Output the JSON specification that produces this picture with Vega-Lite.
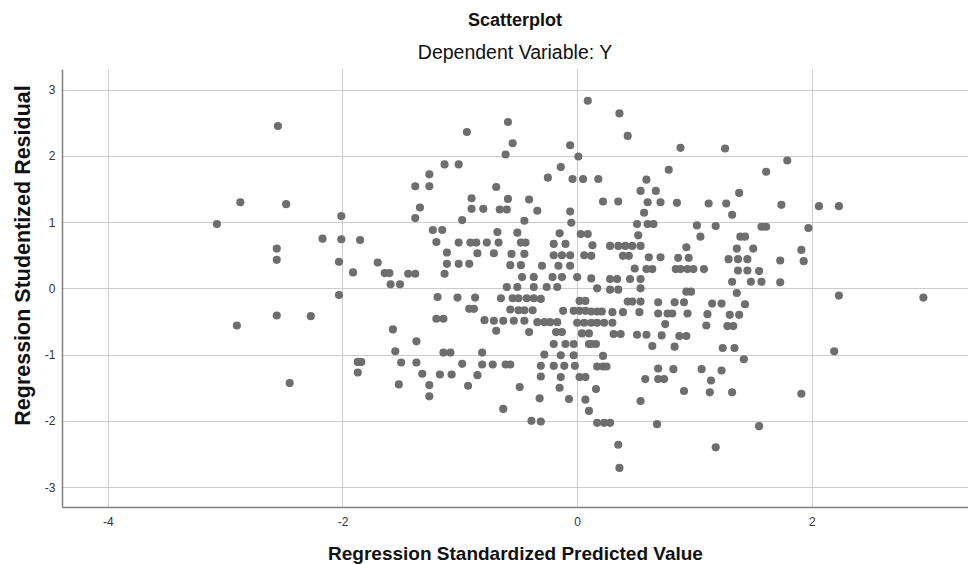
{
  "$schema": "https://vega.github.io/schema/vega-lite/v6.json",
  "autosize": "none",
  "width": 906,
  "height": 438,
  "padding": {"left": 62, "top": 69, "right": 0, "bottom": 57},
  "background": "white",
  "config": {
    "view": {"stroke": null},
    "font": "Liberation Sans"
  },
  "title": {
    "text": "Scatterplot",
    "subtitle": "Dependent Variable: Y",
    "anchor": "middle",
    "font": "Liberation Sans",
    "fontSize": 18,
    "fontWeight": "bold",
    "color": "#111111",
    "subtitleFont": "Liberation Sans",
    "subtitleFontSize": 19.5,
    "subtitleColor": "#111111",
    "subtitlePadding": 14,
    "offset": 7
  },
  "data": {
    "values": [
      {"x": -2.55, "y": 2.45}, {"x": -2.87, "y": 1.30}, {"x": -2.48, "y": 1.27}, {"x": -3.07, "y": 0.97},
      {"x": -2.01, "y": 1.09}, {"x": -2.17, "y": 0.75}, {"x": -2.01, "y": 0.74}, {"x": -1.85, "y": 0.73},
      {"x": -2.56, "y": 0.60}, {"x": -2.56, "y": 0.43}, {"x": -2.03, "y": 0.40}, {"x": -1.91, "y": 0.24},
      {"x": -1.70, "y": 0.39},
      {"x": -2.03, "y": -0.10}, {"x": -2.56, "y": -0.41}, {"x": -2.27, "y": -0.42}, {"x": -2.90, "y": -0.56},
      {"x": -2.45, "y": -1.43}, {"x": -1.87, "y": -1.11}, {"x": -1.84, "y": -1.11}, {"x": -1.87, "y": -1.27},
      {"x": 0.09, "y": 2.83}, {"x": -0.59, "y": 2.51}, {"x": -0.94, "y": 2.36}, {"x": -0.55, "y": 2.19},
      {"x": -0.61, "y": 2.02}, {"x": -0.06, "y": 2.16}, {"x": 0.01, "y": 1.99}, {"x": -1.13, "y": 1.87},
      {"x": -1.01, "y": 1.87}, {"x": -0.14, "y": 1.83}, {"x": -1.26, "y": 1.72}, {"x": -0.25, "y": 1.67},
      {"x": -0.04, "y": 1.65}, {"x": 0.05, "y": 1.65}, {"x": -1.38, "y": 1.54}, {"x": -1.26, "y": 1.54},
      {"x": -0.69, "y": 1.53}, {"x": -0.90, "y": 1.36}, {"x": -0.59, "y": 1.35}, {"x": -0.41, "y": 1.34},
      {"x": -1.34, "y": 1.22}, {"x": -0.90, "y": 1.20}, {"x": -0.80, "y": 1.20}, {"x": -0.66, "y": 1.19},
      {"x": -0.60, "y": 1.19}, {"x": -0.34, "y": 1.17}, {"x": -1.38, "y": 1.06}, {"x": -0.98, "y": 1.03},
      {"x": -0.06, "y": 1.16}, {"x": -0.05, "y": 0.99}, {"x": -0.45, "y": 1.02}, {"x": -1.23, "y": 0.88},
      {"x": -1.15, "y": 0.88}, {"x": -0.68, "y": 0.85}, {"x": -0.51, "y": 0.84}, {"x": -0.15, "y": 0.83},
      {"x": 0.03, "y": 0.82}, {"x": 0.09, "y": 0.82}, {"x": -1.20, "y": 0.70}, {"x": -1.01, "y": 0.69},
      {"x": -0.91, "y": 0.69}, {"x": -0.86, "y": 0.69}, {"x": -0.77, "y": 0.69}, {"x": -0.67, "y": 0.69},
      {"x": -0.48, "y": 0.69}, {"x": -0.44, "y": 0.69}, {"x": -0.20, "y": 0.67}, {"x": -0.10, "y": 0.67},
      {"x": -1.11, "y": 0.54}, {"x": -0.85, "y": 0.53}, {"x": -0.71, "y": 0.53}, {"x": -0.56, "y": 0.52},
      {"x": -0.45, "y": 0.52}, {"x": -0.20, "y": 0.50}, {"x": -0.13, "y": 0.50}, {"x": -0.06, "y": 0.50},
      {"x": 0.06, "y": 0.50}, {"x": -1.11, "y": 0.37}, {"x": -1.01, "y": 0.37}, {"x": -0.92, "y": 0.37},
      {"x": -0.57, "y": 0.35}, {"x": -0.48, "y": 0.35}, {"x": -0.30, "y": 0.34}, {"x": -0.16, "y": 0.34},
      {"x": -0.06, "y": 0.34}, {"x": -1.64, "y": 0.23}, {"x": -1.60, "y": 0.23}, {"x": -1.44, "y": 0.22},
      {"x": -1.38, "y": 0.22}, {"x": -1.13, "y": 0.22}, {"x": -0.47, "y": 0.17}, {"x": -0.37, "y": 0.17},
      {"x": -0.21, "y": 0.17}, {"x": -0.13, "y": 0.17}, {"x": 0.00, "y": 0.17}, {"x": -1.59, "y": 0.06},
      {"x": -1.51, "y": 0.06}, {"x": -0.60, "y": 0.02}, {"x": -0.51, "y": 0.02}, {"x": -0.37, "y": 0.02},
      {"x": -0.26, "y": 0.02}, {"x": -0.17, "y": 0.02},
      {"x": -1.19, "y": -0.13}, {"x": -1.02, "y": -0.14}, {"x": -0.87, "y": -0.14}, {"x": -0.65, "y": -0.15},
      {"x": -0.55, "y": -0.15}, {"x": -0.50, "y": -0.15}, {"x": -0.43, "y": -0.15}, {"x": -0.37, "y": -0.15},
      {"x": -0.31, "y": -0.16}, {"x": 0.02, "y": -0.19}, {"x": 0.07, "y": -0.19}, {"x": -0.92, "y": -0.31},
      {"x": -0.88, "y": -0.31}, {"x": -0.57, "y": -0.32}, {"x": -0.50, "y": -0.33}, {"x": -0.45, "y": -0.33},
      {"x": -0.38, "y": -0.33}, {"x": -0.12, "y": -0.34}, {"x": -0.03, "y": -0.34}, {"x": 0.02, "y": -0.34},
      {"x": 0.07, "y": -0.34}, {"x": -1.20, "y": -0.46}, {"x": -1.14, "y": -0.46}, {"x": -0.79, "y": -0.48},
      {"x": -0.71, "y": -0.49}, {"x": -0.63, "y": -0.49}, {"x": -0.54, "y": -0.49}, {"x": -0.45, "y": -0.49},
      {"x": -0.34, "y": -0.51}, {"x": -0.28, "y": -0.51}, {"x": -0.23, "y": -0.51}, {"x": -0.17, "y": -0.51},
      {"x": 0.00, "y": -0.52}, {"x": 0.06, "y": -0.52}, {"x": 0.12, "y": -0.52}, {"x": -1.57, "y": -0.62},
      {"x": -0.69, "y": -0.64}, {"x": -0.41, "y": -0.66}, {"x": -0.18, "y": -0.66}, {"x": -0.13, "y": -0.66},
      {"x": 0.04, "y": -0.68}, {"x": 0.10, "y": -0.68}, {"x": -1.37, "y": -0.80}, {"x": -0.20, "y": -0.84},
      {"x": -0.10, "y": -0.84}, {"x": -0.03, "y": -0.84}, {"x": 0.10, "y": -0.84}, {"x": -1.55, "y": -0.95},
      {"x": -1.14, "y": -0.97}, {"x": -1.08, "y": -0.97}, {"x": -0.81, "y": -0.97}, {"x": -0.28, "y": -1.00},
      {"x": -0.14, "y": -1.01}, {"x": -0.03, "y": -1.01}, {"x": -1.50, "y": -1.12}, {"x": -1.37, "y": -1.12},
      {"x": -0.98, "y": -1.14}, {"x": -0.81, "y": -1.15}, {"x": -0.72, "y": -1.15}, {"x": -0.61, "y": -1.15},
      {"x": -0.57, "y": -1.15}, {"x": -0.31, "y": -1.17}, {"x": -0.20, "y": -1.17}, {"x": -0.11, "y": -1.17},
      {"x": -0.02, "y": -1.17}, {"x": -1.32, "y": -1.29}, {"x": -1.17, "y": -1.30}, {"x": -1.07, "y": -1.30},
      {"x": -0.85, "y": -1.31}, {"x": -0.31, "y": -1.33}, {"x": -0.14, "y": -1.34}, {"x": 0.02, "y": -1.34},
      {"x": 0.07, "y": -1.34}, {"x": -1.52, "y": -1.45}, {"x": -1.26, "y": -1.46}, {"x": -0.93, "y": -1.47},
      {"x": -0.49, "y": -1.49}, {"x": -0.15, "y": -1.50}, {"x": -1.26, "y": -1.63}, {"x": -0.32, "y": -1.66},
      {"x": -0.07, "y": -1.67}, {"x": 0.07, "y": -1.68}, {"x": -0.63, "y": -1.82}, {"x": 0.10, "y": -1.85},
      {"x": -0.39, "y": -2.00}, {"x": -0.31, "y": -2.01},
      {"x": 0.36, "y": 2.64}, {"x": 0.43, "y": 2.30}, {"x": 0.88, "y": 2.12}, {"x": 1.26, "y": 2.11},
      {"x": 1.79, "y": 1.93}, {"x": 0.78, "y": 1.79}, {"x": 1.61, "y": 1.76}, {"x": 0.18, "y": 1.65},
      {"x": 0.59, "y": 1.64}, {"x": 0.54, "y": 1.47}, {"x": 0.67, "y": 1.47}, {"x": 1.38, "y": 1.44},
      {"x": 0.22, "y": 1.31}, {"x": 0.35, "y": 1.31}, {"x": 0.60, "y": 1.30}, {"x": 0.71, "y": 1.30},
      {"x": 0.85, "y": 1.29}, {"x": 1.12, "y": 1.28}, {"x": 1.27, "y": 1.28}, {"x": 1.74, "y": 1.26},
      {"x": 0.57, "y": 1.14}, {"x": 1.32, "y": 1.11}, {"x": 0.51, "y": 0.97}, {"x": 0.60, "y": 0.97},
      {"x": 0.65, "y": 0.97}, {"x": 1.02, "y": 0.95}, {"x": 1.18, "y": 0.94}, {"x": 1.57, "y": 0.93},
      {"x": 1.61, "y": 0.93}, {"x": 0.52, "y": 0.80}, {"x": 1.05, "y": 0.78}, {"x": 1.39, "y": 0.78},
      {"x": 1.43, "y": 0.78}, {"x": 0.13, "y": 0.65}, {"x": 0.28, "y": 0.64}, {"x": 0.35, "y": 0.64},
      {"x": 0.41, "y": 0.64}, {"x": 0.47, "y": 0.64}, {"x": 0.54, "y": 0.64}, {"x": 0.93, "y": 0.62},
      {"x": 1.36, "y": 0.60}, {"x": 1.50, "y": 0.60}, {"x": 1.91, "y": 0.58}, {"x": 0.12, "y": 0.49},
      {"x": 0.39, "y": 0.49}, {"x": 0.44, "y": 0.49}, {"x": 0.61, "y": 0.47}, {"x": 0.71, "y": 0.47},
      {"x": 0.86, "y": 0.46}, {"x": 0.95, "y": 0.46}, {"x": 1.29, "y": 0.44}, {"x": 1.37, "y": 0.44},
      {"x": 1.45, "y": 0.44}, {"x": 1.73, "y": 0.42}, {"x": 0.49, "y": 0.30}, {"x": 0.59, "y": 0.29},
      {"x": 0.64, "y": 0.29}, {"x": 0.84, "y": 0.29}, {"x": 0.88, "y": 0.29}, {"x": 0.94, "y": 0.29},
      {"x": 0.99, "y": 0.29}, {"x": 1.08, "y": 0.29}, {"x": 1.37, "y": 0.27}, {"x": 1.45, "y": 0.27},
      {"x": 1.55, "y": 0.26}, {"x": 0.12, "y": 0.15}, {"x": 0.28, "y": 0.14}, {"x": 0.34, "y": 0.14},
      {"x": 0.45, "y": 0.14}, {"x": 0.54, "y": 0.14}, {"x": 1.32, "y": 0.10}, {"x": 1.48, "y": 0.10},
      {"x": 1.57, "y": 0.10}, {"x": 1.73, "y": 0.09}, {"x": 0.17, "y": 0.00}, {"x": 0.54, "y": 0.00},
      {"x": 0.28, "y": -0.02}, {"x": 0.35, "y": -0.02}, {"x": 0.93, "y": -0.05}, {"x": 0.97, "y": -0.05},
      {"x": 1.36, "y": -0.07}, {"x": 0.43, "y": -0.20}, {"x": 0.47, "y": -0.20}, {"x": 0.54, "y": -0.20},
      {"x": 0.69, "y": -0.21}, {"x": 0.83, "y": -0.21}, {"x": 0.91, "y": -0.21}, {"x": 1.15, "y": -0.23},
      {"x": 1.23, "y": -0.23}, {"x": 1.43, "y": -0.24}, {"x": 0.12, "y": -0.35}, {"x": 0.17, "y": -0.35},
      {"x": 0.21, "y": -0.35}, {"x": 0.30, "y": -0.36}, {"x": 0.39, "y": -0.36}, {"x": 0.53, "y": -0.36},
      {"x": 0.69, "y": -0.38}, {"x": 0.77, "y": -0.38}, {"x": 0.81, "y": -0.38}, {"x": 0.94, "y": -0.38},
      {"x": 1.11, "y": -0.39}, {"x": 1.30, "y": -0.40}, {"x": 1.38, "y": -0.40}, {"x": 0.17, "y": -0.52},
      {"x": 0.23, "y": -0.52}, {"x": 0.30, "y": -0.52}, {"x": 0.75, "y": -0.54}, {"x": 1.10, "y": -0.56},
      {"x": 1.28, "y": -0.57}, {"x": 1.33, "y": -0.57}, {"x": 0.31, "y": -0.69}, {"x": 0.37, "y": -0.69},
      {"x": 0.51, "y": -0.70}, {"x": 0.59, "y": -0.70}, {"x": 0.72, "y": -0.71}, {"x": 0.87, "y": -0.72},
      {"x": 0.93, "y": -0.72}, {"x": 0.12, "y": -0.84}, {"x": 0.16, "y": -0.84}, {"x": 0.64, "y": -0.87},
      {"x": 0.83, "y": -0.88}, {"x": 1.24, "y": -0.90}, {"x": 1.34, "y": -0.90}, {"x": 0.22, "y": -1.02},
      {"x": 1.42, "y": -1.07}, {"x": 0.17, "y": -1.18}, {"x": 0.22, "y": -1.18}, {"x": 0.25, "y": -1.18},
      {"x": 0.69, "y": -1.21}, {"x": 0.82, "y": -1.22}, {"x": 1.06, "y": -1.22}, {"x": 1.23, "y": -1.24},
      {"x": 0.58, "y": -1.37}, {"x": 0.69, "y": -1.37}, {"x": 0.74, "y": -1.37}, {"x": 1.14, "y": -1.39},
      {"x": 0.16, "y": -1.52}, {"x": 0.91, "y": -1.55}, {"x": 1.13, "y": -1.57}, {"x": 1.32, "y": -1.57},
      {"x": 1.91, "y": -1.59}, {"x": 0.54, "y": -1.70}, {"x": 0.17, "y": -2.03}, {"x": 0.23, "y": -2.03},
      {"x": 0.28, "y": -2.03}, {"x": 0.68, "y": -2.05}, {"x": 1.55, "y": -2.08}, {"x": 0.35, "y": -2.36},
      {"x": 1.18, "y": -2.40}, {"x": 0.36, "y": -2.71},
      {"x": 2.06, "y": 1.24}, {"x": 2.23, "y": 1.24}, {"x": 1.97, "y": 0.91}, {"x": 1.93, "y": 0.41},
      {"x": 2.23, "y": -0.11}, {"x": 2.95, "y": -0.14}, {"x": 2.19, "y": -0.95}
    ]
  },
  "mark": {"type": "circle", "size": 66, "color": "#6e6e6e", "opacity": 1},
  "encoding": {
    "x": {
      "field": "x",
      "type": "quantitative",
      "scale": {"domain": [-4.39, 3.33], "nice": false, "zero": false},
      "axis": {
        "values": [-4, -2, 0, 2],
        "labelExpr": "'' + datum.value",
        "title": "Regression Standardized Predicted Value",
        "grid": true,
        "gridColor": "#cccccc",
        "gridWidth": 1,
        "domainColor": "#808080",
        "domainWidth": 1.5,
        "tickSize": 0,
        "labelPadding": 9,
        "labelFontSize": 12,
        "labelColor": "#333333",
        "labelFont": "Liberation Sans",
        "titleFont": "Liberation Sans",
        "titleFontSize": 19,
        "titleFontWeight": "bold",
        "titleColor": "#111111",
        "titleBaseline": "alphabetic",
        "titleY": 52
      }
    },
    "y": {
      "field": "y",
      "type": "quantitative",
      "scale": {"domain": [-3.3, 3.31], "nice": false, "zero": false},
      "axis": {
        "values": [-3, -2, -1, 0, 1, 2, 3],
        "labelExpr": "'' + datum.value",
        "title": "Regression Studentized Residual",
        "grid": true,
        "gridColor": "#cccccc",
        "gridWidth": 1,
        "domainColor": "#808080",
        "domainWidth": 1.5,
        "tickSize": 0,
        "labelPadding": 7,
        "labelFontSize": 12,
        "labelColor": "#333333",
        "labelFont": "Liberation Sans",
        "titleFont": "Liberation Sans",
        "titleFontSize": 21.5,
        "titleFontWeight": "bold",
        "titleColor": "#111111",
        "titleBaseline": "alphabetic",
        "titleAngle": 270,
        "titleX": -33,
        "titleY": 186
      }
    }
  }
}
